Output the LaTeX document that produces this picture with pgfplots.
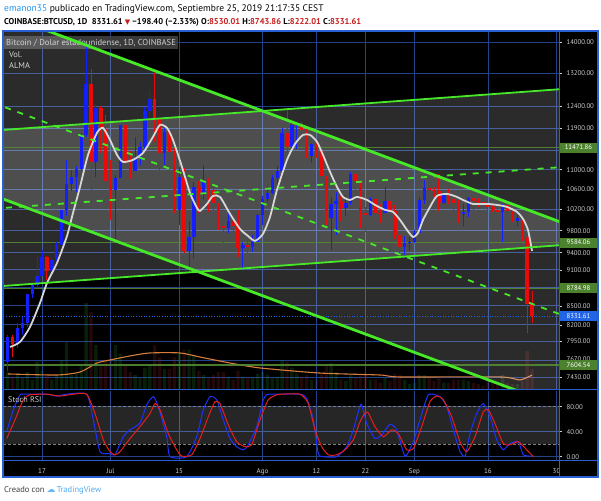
\documentclass[border=0pt]{standalone}
\usepackage{pgfplots}
\pgfplotsset{compat=1.18}
\usepackage{pgfplotstable}
\usepackage{fontspec}
\setmainfont{PT Sans}
\newfontfamily\dejavu{DejaVu Sans}
\definecolor{gridblue}{RGB}{36,66,138}
\definecolor{framebl}{RGB}{40,95,210}
\definecolor{cblue}{RGB}{20,30,255}
\definecolor{cred}{RGB}{235,10,10}
\definecolor{chgreen}{RGB}{70,232,40}
\definecolor{hgreen}{RGB}{84,138,52}
\definecolor{boxgreen}{RGB}{76,130,46}
\definecolor{boxblue}{RGB}{33,100,230}
\definecolor{lbl}{RGB}{205,205,205}
\definecolor{almac}{RGB}{215,215,215}
\definecolor{volg}{RGB}{40,150,40}
\definecolor{volr}{RGB}{170,40,40}
\definecolor{vma}{RGB}{215,125,60}
\definecolor{rsib}{RGB}{30,50,255}
\definecolor{rsir}{RGB}{230,30,30}
\definecolor{tvblue}{RGB}{33,150,243}
\definecolor{hdrred}{RGB}{200,30,30}

\pgfplotstableread{
d o h l c v
-7 7640 8050 7510 8015 12
-6 8015 8040 7710 7910 9
-5 7910 8230 7850 8150 11
-4 8150 8325 8050 8235 8
-3 8235 8700 8160 8690 12
-2 8690 8875 8630 8850 7
-1 8850 9350 8800 8990 19
0 8990 9450 8990 9320 13
1 9320 9345 8930 9080 11
2 9080 9300 9050 9275 7
3 9275 9600 9250 9530 10
4 9530 10200 9530 10185 20
5 10185 11200 10080 10700 32
6 10700 11000 10570 10855 10
7 10855 11080 10550 11020 11
8 11020 11800 11000 11750 17
9 11750 13880 11700 12930 58
10 12930 13300 10300 11160 52
11 11160 12450 10850 12370 30
12 12370 12400 11350 11880 16
13 11880 12200 10700 10760 20
14 10760 11200 10000 10590 26
15 10590 10900 9650 10820 30
16 10820 11980 10820 11980 24
17 11980 12050 11050 11150 17
18 11150 11400 10800 10980 12
19 10980 11700 10980 11250 10
20 11250 11600 11100 11480 8
21 11480 12380 11370 12300 15
22 12300 12800 12120 12580 17
23 12580 13200 11600 12100 30
24 12100 12100 11000 11350 22
25 11350 11900 11100 11810 14
26 11810 11850 10850 11380 14
27 11380 11470 10130 10200 22
28 10200 11050 9900 10860 25
29 10860 11030 9400 9430 27
30 9430 9980 9070 9680 27
31 9680 10750 9300 10640 23
32 10640 10760 10130 10530 13
33 10530 11100 10400 10760 10
34 10760 10830 10150 10590 8
35 10590 10660 10100 10330 10
36 10330 10330 9820 9880 12
37 9880 9920 9550 9850 12
38 9850 10180 9750 9990 9
39 9990 9990 9700 9880 7
40 9880 10200 9320 9480 13
41 9480 9600 9120 9530 9
42 9530 9720 9400 9510 8
43 9510 9720 9420 9590 8
44 9590 10120 9590 10090 11
45 10090 10470 9900 10400 12
46 10400 10660 10350 10530 10
47 10530 10900 10500 10820 8
48 10820 11080 10550 10980 9
49 10980 11900 10980 11800 20
50 11800 12300 11300 11480 19
51 11480 12130 11400 11980 15
52 11980 12050 11450 11990 11
53 11990 12050 11660 11860 9
54 11860 11950 11250 11290 10
55 11290 11580 11150 11550 7
56 11550 11580 11250 11390 7
57 11390 11450 10800 10870 11
58 10870 10880 9900 10030 16
59 10030 10450 9450 10300 18
60 10300 10540 9720 10360 12
61 10360 10470 9990 10230 7
62 10230 10480 10080 10330 6
63 10330 10960 10280 10920 11
64 10920 10950 10580 10770 8
65 10770 10770 9850 10130 10
66 10130 10250 9780 10100 10
67 10100 10440 10080 10400 7
68 10400 10400 9900 10140 7
69 10140 10300 9950 10130 5
70 10130 10650 10130 10360 8
71 10360 10380 10060 10170 6
72 10170 10290 9640 9720 11
73 9720 9720 9330 9500 10
74 9500 9700 9360 9580 7
75 9580 9680 9450 9600 4
76 9600 9820 9570 9760 5
77 9760 10440 9750 10380 10
78 10380 10780 10300 10620 10
79 10620 10800 10400 10580 8
80 10580 10650 10450 10570 6
81 10570 10920 10180 10320 9
82 10320 10550 10300 10490 5
83 10490 10600 10300 10400 5
84 10400 10480 10080 10320 7
85 10320 10380 9950 10110 7
86 10110 10300 9880 10160 7
87 10160 10450 10050 10420 6
88 10420 10450 10160 10360 5
89 10360 10420 10260 10350 4
90 10350 10380 10280 10310 3
91 10310 10370 10100 10260 6
92 10260 10280 10150 10190 5
93 10190 10280 10150 10160 5
94 10160 10300 9600 10280 10
95 10280 10280 10070 10170 5
96 10170 10180 9970 9980 4
97 9980 10100 9880 10030 4
98 10030 10050 9620 9690 6
99 9690 9800 8080 8530 26
100 8530 8744 8222 8332 14
}\ohlc

\begin{document}
\begin{tikzpicture}[x=1pt,y=1pt]
\useasboundingbox (0,0) rectangle (601,500);
\fill[white] (0,0) rectangle (601,500);
\fill[black] (3,23) rectangle (598,469);

% ---------- base price axis: grid and price scale
\begin{axis}[
  at={(4pt,110pt)}, anchor=south west,
  scale only axis, width=555pt, height=358pt,
  xmin=-7.755, xmax=105.51,
  ymode=log, ymin=7249.5, ymax=14281,
  axis line style={draw=none},
  xtick={0,14,28,45,56,66,76,91,105}, xticklabels={},
  major x tick style={draw=none},
  ytick={14000,13200,12400,11900,11400,11000,10600,10200,9800,9400,9100,8800,8500,8200,7950,7670,7430},
  yticklabels={14000.00,13200.00,12400.00,11900.00,{},11000.00,10600.00,10200.00,9800.00,9400.00,9100.00,{},8500.00,8200.00,7950.00,\raisebox{2.2pt}{7670.00},7430.00},
  ytick pos=right, yticklabel pos=right,
  minor ytick={},
  major y tick style={draw=lbl, line width=0.6pt},
  tick align=outside, major tick length=3pt,
  yticklabel style={font=\fontsize{6.8}{7}\selectfont, text=lbl, xshift=1pt},
  grid=major, major grid style={gridblue, line width=0.8pt},
]
\end{axis}

\node[anchor=west, fill=white!25!black, fill opacity=0.9, text opacity=1, text=lbl, inner sep=2pt, minimum height=13pt, font=\fontsize{8.6}{9}\selectfont] at (4,457) {Bitcoin / Dolar estadounidense, 1D, COINBASE\hspace{3pt}};
\node[anchor=west, text=lbl, inner sep=0pt, font=\fontsize{8.4}{9}\selectfont] at (9,445.5) {Vol.};
\node[anchor=west, text=lbl, inner sep=0pt, font=\fontsize{8.4}{9}\selectfont] at (9,434) {ALMA};

% ---------- volume axis
\begin{axis}[
  at={(4pt,110pt)}, anchor=south west,
  scale only axis, width=555pt, height=358pt,
  xmin=-7.755, xmax=105.51, ymin=0, ymax=238.7,
  hide axis,
]
\addplot[ybar, bar width=3.4pt, fill=volg, fill opacity=0.2, draw=none]
  table[x=d, y expr={(\thisrow{c}>=\thisrow{o})*\thisrow{v}}]{\ohlc};
\addplot[ybar, bar width=3.4pt, fill=volr, fill opacity=0.2, draw=none]
  table[x=d, y expr={(\thisrow{c}<\thisrow{o})*\thisrow{v}}]{\ohlc};
\addplot[vma, line width=1.1pt, smooth, tension=0.4] coordinates {
(-6.94,10.7) (3.06,10) (7.76,12) (11.22,18) (13.88,20) (17.96,22.7) (22.04,24.7)
(28.16,24.7) (32.24,22) (38.37,18) (44.49,14.7) (56.73,11.3) (68.98,10) (73.06,8.7)
(93.47,8.7) (97.55,6.7) (100,10)};
\end{axis}

% ---------- price overlay axis
\begin{axis}[
  at={(4pt,110pt)}, anchor=south west,
  scale only axis, width=555pt, height=358pt,
  xmin=-7.755, xmax=105.51,
  ymode=log, ymin=7249.5, ymax=14281,
  hide axis, clip mode=individual,
]
% channel fills
\addplot[fill=white, fill opacity=0.17, draw=none] coordinates {(-10,14873) (110,9819) (110,6920) (-10,10482)} -- cycle;
\addplot[fill=white, fill opacity=0.17, draw=none] coordinates {(-10,11844) (110,12850) (110,9563) (-10,8814)} -- cycle;
% horizontal levels
\addplot[hgreen, line width=1.7pt, opacity=0.9] coordinates {(-10,11471.86) (110,11471.86)};
\addplot[hgreen, line width=1.7pt, opacity=0.9] coordinates {(-10,9584.06) (110,9584.06)};
\addplot[hgreen, line width=1.7pt, opacity=0.9] coordinates {(-10,8784.98) (110,8784.98)};
\addplot[hgreen, line width=1.7pt, opacity=0.9] coordinates {(-10,7604.54) (110,7604.54)};
\addplot[boxblue, line width=0.6pt, dotted] coordinates {(-10,8331.61) (110,8331.61)};
% candles
\pgfplotsforeachungrouped \i in {0,...,107}{%
 \pgfplotstablegetelem{\i}{d}\of\ohlc\let\cndD\pgfplotsretval
 \pgfplotstablegetelem{\i}{o}\of\ohlc\let\cndO\pgfplotsretval
 \pgfplotstablegetelem{\i}{h}\of\ohlc\let\cndH\pgfplotsretval
 \pgfplotstablegetelem{\i}{l}\of\ohlc\let\cndL\pgfplotsretval
 \pgfplotstablegetelem{\i}{c}\of\ohlc\let\cndC\pgfplotsretval
 \ifdim\cndC pt<\cndO pt\def\cndcol{cred}\else\def\cndcol{cblue}\fi
 \edef\cndtmp{\noexpand\addplot[\cndcol,line width=1pt,forget plot] coordinates {(\cndD,\cndL) (\cndD,\cndH)};%
   \noexpand\addplot[\cndcol,line width=3.4pt,forget plot] coordinates {(\cndD,\cndO) (\cndD,\cndC)};}%
 \cndtmp
}
% ALMA
\addplot[almac, line width=1.8pt, smooth, tension=0.4] coordinates {
(-6.53,7865) (-4.49,7940) (-2.45,8168) (-0.41,8547) (1.02,8877) (3.06,9220) (5.10,9703)
(6.33,10137) (7.76,10648) (9.39,11313) (11.22,11795) (12.45,11907) (13.88,11639)
(15.31,11313) (16.53,11165) (18.57,11207) (20.61,11357) (22.65,11706) (24.08,11975)
(25.51,11907) (26.73,11639) (28.57,11059) (30.2,10528) (31.63,10233) (32.24,10175)
(33.67,10311) (34.9,10468) (36.33,10448) (38.37,10118) (40.41,9834) (42.04,9703)
(43.47,9614) (45.1,9741) (46.53,10060) (47.96,10588) (50,11207) (51.63,11551)
(53.27,11750) (54.69,11750) (56.12,11596) (57.35,11313) (58.78,10955) (60.2,10648)
(61.43,10448) (62.86,10389) (64.29,10448) (66.33,10389) (67.96,10291) (70,10195)
(71.63,10156) (73.06,10003) (74.49,9815) (75.71,9685) (76.73,9759) (77.76,10003)
(79.18,10252) (80.61,10468) (82.65,10508) (84.69,10448) (85.92,10389) (87.96,10311)
(90.82,10311) (92.86,10291) (94.9,10252) (96.94,10156) (98.16,10022) (99.18,9815) (100,9433)};
% channel lines
\addplot[chgreen, line width=2.8pt] coordinates {(-10,14873) (110,9819)};
\addplot[chgreen, line width=2.8pt] coordinates {(-10,10482) (110,6920)};
\addplot[chgreen, line width=1.8pt] coordinates {(-10,11844) (110,12850)};
\addplot[chgreen, line width=1.8pt] coordinates {(-10,8814) (110,9563)};
\addplot[chgreen, line width=1.8pt, dash pattern=on 6pt off 7pt] coordinates {(-10,12486) (110,8243)};
\addplot[chgreen, line width=1.8pt, dash pattern=on 6pt off 7pt] coordinates {(-10,10217) (110,11085)};
% price boxes
\tikzset{pbox/.style={anchor=west, text=white, inner sep=0pt, minimum height=10pt, minimum width=38.5pt, font=\fontsize{6.8}{7}\selectfont}}
\node[pbox, fill=boxgreen] at (axis cs:105.51,11471.86) {11471.86};
\node[pbox, fill=boxgreen] at (axis cs:105.51,9584.06) {9584.06};
\node[pbox, fill=boxgreen] at (axis cs:105.51,8784.98) {8784.98};
\node[pbox, fill=boxblue] at (axis cs:105.51,8331.61) {8331.61};
\node[pbox, fill=boxgreen] at (axis cs:105.51,7604.54) {7604.54};
\end{axis}

% ---------- Stoch RSI axis
\begin{axis}[
  at={(4pt,39.7pt)}, anchor=south west,
  scale only axis, width=555pt, height=69.3pt,
  xmin=-7.755, xmax=105.51, ymin=-5.76, ymax=105.1,
  axis line style={draw=none},
  xtick={0,14,28,45,56,66,76,91,105},
  xticklabels={17,Jul,15,Ago,12,22,Sep,16,30},
  major x tick style={draw=none},
  xticklabel style={font=\fontsize{7}{8}\selectfont, text=lbl, anchor=base, yshift=-10.5pt},
  ytick={0,40,80}, yticklabels={0.00,40.00,80.00},
  ytick pos=right, yticklabel pos=right,
  major y tick style={draw=lbl, line width=0.6pt},
  tick align=outside, major tick length=3pt,
  yticklabel style={font=\fontsize{6.8}{7}\selectfont, text=lbl, xshift=1pt},
  grid=major, major grid style={gridblue, line width=0.8pt},
]
\addplot[fill=white, fill opacity=0.15, draw=none] coordinates {(-10,20) (110,20) (110,80) (-10,80)} -- cycle;
\addplot[gray, line width=0.8pt, dash pattern=on 3pt off 2pt] coordinates {(-10,20) (110,20)};
\addplot[gray, line width=0.8pt, dash pattern=on 3pt off 2pt] coordinates {(-10,80) (110,80)};
\addplot[rsib, line width=1pt, smooth, tension=0.35] coordinates {
(-7.2,40) (-5.86,75) (-4.49,99) (-3.5,100) (0.96,100) (3.0,97) (5.04,100) (9.12,100)
(10.47,59) (11.84,8) (13.88,5) (14.9,3) (16.59,32) (17.96,43) (20,54) (21.37,83)
(22.71,96) (23.73,80) (25.45,32) (26.12,0) (29.53,0) (31.57,32) (32.92,75) (34.29,96)
(35.65,91) (37,59) (38.37,29) (39.73,16) (41.08,11) (42.1,19) (43.82,48) (45.16,91)
(45.86,99) (46.5,100) (52.65,100) (54.02,93) (55.37,59) (56.39,5) (57.5,0) (60.14,0)
(62.18,16) (63.53,43) (65.1,84) (66.27,53) (67.96,29) (69.33,35) (71.02,52) (72.39,43)
(74.08,1) (75.78,24) (77.14,59) (78.84,99) (81.22,96) (82.59,80) (83.94,43) (85.31,8)
(86.33,1) (87.35,37) (88.71,69) (90.06,85) (91.43,64) (92.8,27) (94.14,11) (95.51,21)
(97.2,24) (98.22,3) (99.94,1)};
\addplot[rsir, line width=1pt, smooth, tension=0.35] coordinates {
(-7.2,29) (-5.51,59) (-3.82,91) (-2.45,99) (0.96,100) (3.67,97) (6.39,100) (9.12,100)
(10.82,69) (12.51,27) (13.88,8) (14.9,3) (15.92,8) (17.96,29) (20,48) (22.04,69)
(23.06,85) (24.08,75) (25.78,37) (27.49,11) (28.51,1) (30.55,3) (32.24,29) (33.94,64)
(35.31,88) (36.33,85) (38.02,51) (39.73,24) (41.43,16) (42.8,19) (44.49,59) (46.18,91)
(47.9,99) (48.8,100) (52.65,100) (54.35,85) (55.71,43) (57.08,16) (58.43,3) (60.14,3)
(61.84,11) (63.53,27) (64.9,56) (65.92,70) (66.59,70) (67.96,48) (69.65,32) (71.37,43)
(72.71,37) (74.43,11) (75.78,13) (77.49,48) (79.18,88) (80.55,97) (81.9,91) (83.61,64)
(85.31,24) (86.67,8) (88.37,32) (90.06,72) (91.08,75) (92.45,53) (94.14,21) (95.51,19)
(97.2,24) (98.92,11) (100.27,0)};
\end{axis}

\node[anchor=west, text=lbl, inner sep=0pt, font=\fontsize{8.2}{9}\selectfont] at (8,100) {Stoch RSI};

% separators and frame
\draw[framebl, line width=1pt] (3,110) -- (598,110);
\draw[framebl, line width=1pt] (3,39.7) -- (598,39.7);
\draw[framebl, line width=1pt] (559.5,23) -- (559.5,469);
\draw[framebl, line width=1.1pt] (3,23) rectangle (598,469);

% header
\node[anchor=base west, inner sep=0pt, font=\fontsize{9.5}{11}\selectfont] at (4,488) {\textcolor{tvblue}{emanon35} publicado en TradingView.com, Septiembre 25, 2019 21:17:35 CEST};
\node[anchor=base west, inner sep=0pt, font=\bfseries\fontsize{8.5}{10}\selectfont] at (4,475) {COINBASE:BTCUSD, 1D \ 8331.61 {\dejavu\fontsize{7}{8}\selectfont\textcolor{hdrred}{▼}} −198.40 (−2.33\%) O:\textcolor{hdrred}{8530.01} H:\textcolor{hdrred}{8743.86} L:\textcolor{hdrred}{8222.01} C:\textcolor{hdrred}{8331.61}};
\node[anchor=base west, inner sep=0pt, font=\fontsize{8.5}{10}\selectfont, text=black!75] at (4,8) {Creado con {\dejavu\textcolor{tvblue!70}{☁}}\,\textcolor{tvblue!80}{TradingView}};
\end{tikzpicture}
\end{document}
